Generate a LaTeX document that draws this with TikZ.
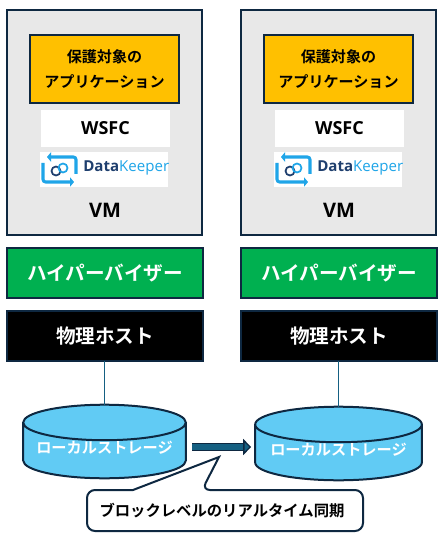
\documentclass[tikz,border=0pt]{standalone}
\usepackage{fontspec}
\usetikzlibrary{shapes.geometric,arrows.meta}
\setmainfont{Noto Sans CJK JP}[BoldFont={Noto Sans CJK JP Bold}]
\newfontfamily\latinfont{Open Sans}
\definecolor{FrameNavy}{HTML}{0E2841}
\definecolor{VmGray}{HTML}{E8E8E8}
\definecolor{AppAmber}{HTML}{FFC000}
\definecolor{HyperGreen}{HTML}{00B050}
\definecolor{DiskBlue}{HTML}{61CBF4}
\definecolor{LinkBlue}{HTML}{156082}
\definecolor{KeeperNavy}{HTML}{1F3F6E}
\definecolor{KeeperBlue}{HTML}{1FA5E8}
\begin{document}
\begin{tikzpicture}[x=0.75pt,y=-0.75pt,
  rect/.style={draw=FrameNavy,line width=1.5pt,anchor=north west,inner sep=0pt,outer sep=0pt},
  vmbox/.style={rect,fill=VmGray,minimum width=146.25pt,minimum height=168.75pt},
  appbox/.style={rect,fill=AppAmber,minimum width=111.75pt,minimum height=51pt,
    align=center,font=\fontsize{11.3}{19}\selectfont\bfseries},
  whitebox/.style={fill=white,anchor=north west,inner sep=0pt,outer sep=0pt},
  band/.style={rect,minimum width=147pt,minimum height=37.5pt,
    font=\fontsize{14.7}{17}\selectfont\bfseries},
  disk/.style={cylinder,shape border rotate=90,draw=FrameNavy,line width=1.5pt,
    fill=DiskBlue,cylinder uses custom fill,cylinder body fill=DiskBlue,
    cylinder end fill=DiskBlue,aspect=0.26,inner sep=0pt,outer sep=0pt,text=white,
    anchor=shape center,text height=9pt,text depth=5.5pt,
    font=\fontsize{11.4}{14}\selectfont\bfseries},
  link/.style={LinkBlue,line width=1pt},
  sync/.style={draw=FrameNavy,line width=1pt,double=LinkBlue,double distance=4pt,
    shorten >=3pt,-{Triangle[length=6pt,width=12pt,fill=LinkBlue]}},
  dklogo/.pic={
    \draw[KeeperBlue,line width=2.3pt,rounded corners=2pt,-{Triangle[length=3pt,width=7pt]}]
      (76,174) -- (76,157) -- (47,157);
    \draw[KeeperBlue,line width=2.3pt,rounded corners=2pt,-{Triangle[length=3pt,width=7pt]}]
      (43,163) -- (43,182) -- (74,182);
    \draw[KeeperNavy,line width=1.3pt] (56,171) circle (4.5);
    \draw[KeeperBlue,line width=1.3pt] (63,168) circle (4.5);
    \node[anchor=west,inner sep=0pt,font=\latinfont\fontsize{11.3}{13}\selectfont]
      at (83,168) {\textcolor{KeeperNavy}{\bfseries Data}\textcolor{KeeperBlue}{Keeper}};
  }]
  \useasboundingbox (0,0) rectangle (442,541);
  \foreach \col/\dx in {L/0,R/234}{
    \node[vmbox] (vm\col) at (7+\dx,10) {};
    \node[appbox] (app\col) at (30+\dx,35) {保護対象の\\アプリケーション};
    \node[whitebox,minimum width=96.75pt,minimum height=27.75pt,
      font=\latinfont\fontsize{13.5}{16}\selectfont\bfseries]
      (wsfc\col) at (41+\dx,110) {WSFC};
    \node[whitebox,minimum width=96pt,minimum height=26.25pt] (dk\col) at (40+\dx,152) {};
    \pic at (\dx,0) {dklogo};
    \node[font=\latinfont\fontsize{15}{18}\selectfont\bfseries] (vmlabel\col) at (105+\dx,210) {VM};
    \node[band,fill=HyperGreen,text=white] (hyper\col) at (7+\dx,248) {ハイパーバイザー};
    \node[band,fill=black,text=white] (host\col) at (7+\dx,311) {物理ホスト};
  }
  % ストレージ
  \node[disk,minimum width=122pt,minimum height=48pt] (diskL) at (104.5,441.5) {ローカルストレージ};
  \node[disk,minimum width=125pt,minimum height=48pt] (diskR) at (338.5,443.5) {ローカルストレージ};
  \draw[link] (hostL.south -| diskL.north) -- (diskL.north);
  \draw[link] (hostR.south -| diskR.north) -- (diskR.north);
  \coordinate (syncstart) at (192,447);
  \draw[sync] (syncstart) -- (diskR.west |- syncstart);
  % 吹き出し
  \coordinate (tip) at (219,457);
  \draw[draw=FrameNavy,fill=white,line width=1.5pt,rounded corners=6pt]
    (87,490) -- (87,531) -- (363,531) -- (363,490) -- (202,490)
    [sharp corners] -- (tip) -- (133,490) [rounded corners=6pt] -- cycle;
  \node[font=\fontsize{11.5}{14}\selectfont\bfseries] (synclabel) at (222,510.5) {ブロックレベルのリアルタイム同期};
\end{tikzpicture}
\end{document}
